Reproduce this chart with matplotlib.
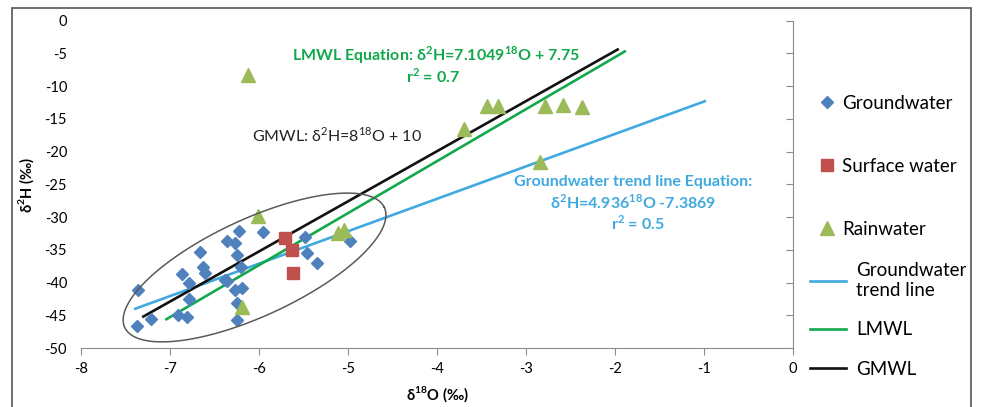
import numpy as np
import matplotlib
matplotlib.use("Agg")
import matplotlib.pyplot as plt
from matplotlib.lines import Line2D
from matplotlib.patches import Rectangle

plt.rcParams['font.family'] = ['Lato', 'DejaVu Sans']
plt.rcParams['mathtext.fontset'] = 'custom'
plt.rcParams['mathtext.rm'] = 'Lato'
plt.rcParams['mathtext.bf'] = 'Lato:bold'

# data (d18O, d2H in permil)
gw_x = [-7.36, -7.37, -7.21, -6.87, -6.79, -6.79, -6.91, -6.81, -6.66, -6.63,
        -6.61, -6.36, -6.23, -6.27, -6.25, -6.36, -6.27, -6.25, -6.25, -5.95,
        -6.38, -6.19, -6.20, -5.48, -5.46, -5.35, -4.98]
gw_y = [-41.2, -46.7, -45.6, -38.7, -40.1, -42.5, -44.9, -45.2, -35.4, -37.6,
        -38.6, -33.7, -32.2, -34.0, -35.8, -39.8, -41.1, -43.1, -45.7, -32.3,
        -39.6, -40.9, -37.6, -33.1, -35.5, -37.0, -33.7]
sw_x = [-5.71, -5.63, -5.62]
sw_y = [-33.2, -35.0, -38.6]
rain_x = [-6.01, -6.19, -5.11, -5.05, -6.12, -3.70, -3.44, -3.31, -2.79, -2.58, -2.37, -2.84]
rain_y = [-29.9, -43.7, -32.5, -32.0, -8.3, -16.6, -13.0, -13.0, -13.0, -12.9, -13.2, -21.6]

# line end points
trend_x = [-7.39, -0.99]
trend_y = [-44.0, -12.3]
lmwl_x = [-7.04, -1.89]
lmwl_y = [-45.6, -4.7]
gmwl_x = [-7.30, -1.97]
gmwl_y = [-45.2, -4.4]

xticks = [-8, -7, -6, -5, -4, -3, -2, -1, 0]
yticks = [0, -5, -10, -15, -20, -25, -30, -35, -40, -45, -50]

c_gw = '#4F81BD'
c_sw = '#C0504D'
c_rain = '#9BBB59'
c_trend = '#3FA9E0'
c_lmwl = '#12A84B'
c_gmwl = '#111111'
c_axis = '#8C8C8C'

W, H = 981, 407
fig = plt.figure(figsize=(W / 100, H / 100), dpi=100)
ax_l, ax_r, ax_t, ax_b = 81, 793, 20.7, 348
ax = fig.add_axes([ax_l / W, 1 - ax_b / H, (ax_r - ax_l) / W, (ax_b - ax_t) / H])

ax.plot(trend_x, trend_y, color=c_trend, lw=1.9)
ax.plot(lmwl_x, lmwl_y, color=c_lmwl, lw=1.9)
ax.plot(gmwl_x, gmwl_y, color=c_gmwl, lw=1.9)
ax.plot(gw_x, gw_y, 'D', color=c_gw, ms=6.3, ls='none')
ax.plot(sw_x, sw_y, 's', color=c_sw, ms=9, ls='none')
ax.plot(rain_x, rain_y, '^', color=c_rain, ms=10, ls='none')

ax.set_xlim(-8, 0)
ax.set_ylim(-50, 0)
ax.set_xticks(xticks)
ax.set_yticks(yticks)
ax.set_xticklabels([str(v) for v in xticks])
ax.set_yticklabels([str(v) for v in yticks])

# ellipse drawn round the groundwater cluster (sizes in pixels)
px_x = (ax_r - ax_l) / 8.0
px_y = (ax_b - ax_t) / 50.0
ecx, ecy, ea, eb, eang = -6.05, -37.7, 143, 48.5, np.radians(24.8)
t = np.linspace(0, 2 * np.pi, 300)
ex = ea * np.cos(t) * np.cos(eang) - eb * np.sin(t) * np.sin(eang)
ey = ea * np.cos(t) * np.sin(eang) + eb * np.sin(t) * np.cos(eang)
ax.plot(ecx + ex / px_x, ecy + ey / px_y, color='#5A5A5A', lw=1.1)

for s in ['top', 'left']:
    ax.spines[s].set_visible(False)
ax.spines['right'].set_color(c_axis)
ax.spines['bottom'].set_color(c_axis)
ax.tick_params(axis='x', direction='out', length=5, color=c_axis, labelsize=10.5, pad=5)
ax.tick_params(axis='y', left=False, right=True, labelleft=True, labelright=False,
               direction='in', length=5, color=c_axis, labelsize=10.5, pad=10)

ax.set_xlabel(r'δ$^{\mathbf{18}}$O (‰)', fontsize=10.5, fontweight='bold', labelpad=6)
ax.set_ylabel(r'δ$^{\mathbf{2}}$H (‰)', fontsize=10.5, fontweight='bold', labelpad=6)

# equations
fig.text(436 / W, 1 - 55 / H, r'LMWL Equation: δ$^{\mathbf{2}}$H=7.1049$^{\mathbf{18}}$O + 7.75',
         color=c_lmwl, fontsize=11.5, fontweight='bold', ha='center', va='center')
fig.text(433 / W, 1 - 76 / H, r'r$^{\mathbf{2}}$ = 0.7',
         color=c_lmwl, fontsize=11.5, fontweight='bold', ha='center', va='center')
fig.text(337 / W, 1 - 135 / H, r'GMWL: δ$^{2}$H=8$^{18}$O + 10',
         color='#222222', fontsize=11.5, ha='center', va='center')
fig.text(633 / W, 1 - 182 / H, 'Groundwater trend line Equation:',
         color=c_trend, fontsize=11.5, fontweight='bold', ha='center', va='center')
fig.text(633 / W, 1 - 202 / H, r'δ$^{\mathbf{2}}$H=4.936$^{\mathbf{18}}$O -7.3869',
         color=c_trend, fontsize=11.5, fontweight='bold', ha='center', va='center')
fig.text(638 / W, 1 - 223 / H, r'r$^{\mathbf{2}}$ = 0.5',
         color=c_trend, fontsize=11.5, fontweight='bold', ha='center', va='center')

# legends
mk = [Line2D([], [], marker='D', color=c_gw, ms=6.3, ls='none'),
      Line2D([], [], marker='s', color=c_sw, ms=9, ls='none'),
      Line2D([], [], marker='^', color=c_rain, ms=10, ls='none')]
leg1 = fig.legend(mk, ['Groundwater', 'Surface water', 'Rainwater'],
                  loc='upper left', bbox_to_anchor=(818 / W, 1 - 95 / H),
                  frameon=False, fontsize=13.5, handlelength=1.0, handletextpad=0.3,
                  labelspacing=2.45, borderpad=0, borderaxespad=0)
ln = [Line2D([], [], color=c_trend, lw=1.9),
      Line2D([], [], color=c_lmwl, lw=1.9),
      Line2D([], [], color=c_gmwl, lw=1.9)]
leg2 = fig.legend(ln, ['Groundwater\ntrend line', 'LMWL', 'GMWL'],
                  loc='upper left', bbox_to_anchor=(810 / W, 1 - 262 / H),
                  frameon=False, fontsize=13.5, handlelength=1.9, handletextpad=0.55,
                  labelspacing=1.2, borderpad=0, borderaxespad=0)

# chart border
fig.add_artist(Rectangle((12 / W, -0.05), (971 - 12) / W, 1.05 - 8 / H,
                         transform=fig.transFigure, fill=False, ec='#555555', lw=1.2))

fig.savefig('out.png', dpi=100)
